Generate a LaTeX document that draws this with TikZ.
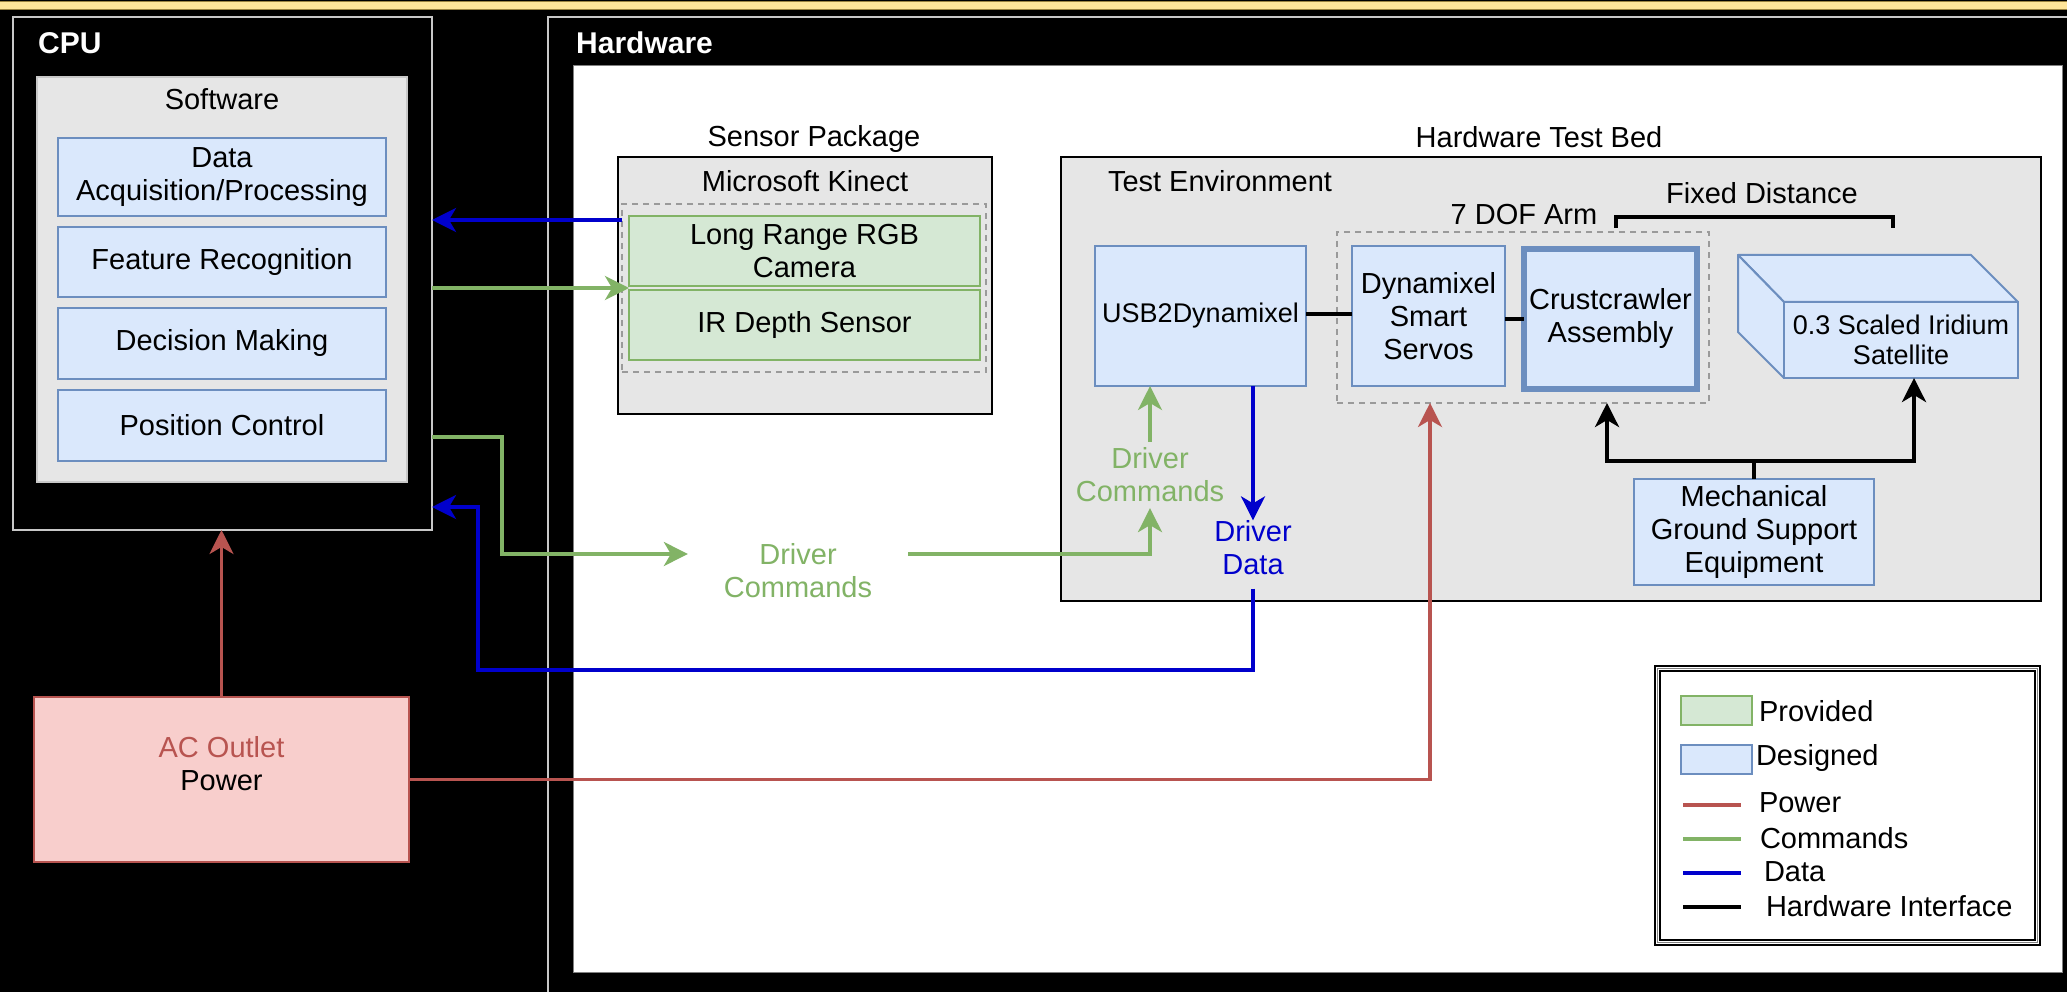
\documentclass[tikz,border=0pt]{standalone}
\usepackage{fontspec}
\setmainfont{Liberation Sans}
\usetikzlibrary{arrows.meta,calc}

\definecolor{bfill}{HTML}{DAE8FC}
\definecolor{bdraw}{HTML}{6C8EBF}
\definecolor{gfill}{HTML}{D5E8D4}
\definecolor{gdraw}{HTML}{82B366}
\definecolor{rfill}{HTML}{F8CECC}
\definecolor{rdraw}{HTML}{B85450}
\definecolor{panelgray}{HTML}{E6E6E6}
\definecolor{swborder}{HTML}{C8C8C8}
\definecolor{frameline}{HTML}{C8C8C8}
\definecolor{dashgray}{HTML}{9A9A9A}
\definecolor{dataline}{HTML}{0000CC}
\definecolor{bandyellow}{HTML}{FFE599}
\definecolor{bandedge}{HTML}{9C8440}

\begin{document}
\begin{tikzpicture}[x=1pt,y=-1pt,
  base/.style={font=\fontsize{29}{33}\selectfont, align=center, inner sep=0pt, outer sep=0pt},
  small/.style={font=\fontsize{27}{30}\selectfont},
  bluebox/.style={base, draw=bdraw, fill=bfill, line width=2pt},
  greenbox/.style={base, draw=gdraw, fill=gfill, line width=2pt},
  graybox/.style={base, draw=black, fill=panelgray, line width=2pt},
  dashbox/.style={draw=dashgray, line width=1.5pt, dash pattern=on 6pt off 5pt, inner sep=0pt, outer sep=0pt},
  panel/.style={draw=frameline, fill=black, line width=2pt, inner sep=0pt, outer sep=0pt},
  paneltitle/.style={font=\fontsize{30}{33}\selectfont\bfseries, text=white, inner sep=0pt},
  cmd/.style={draw=gdraw, line width=3.5pt},
  data/.style={draw=dataline, line width=3.5pt},
  pwr/.style={draw=rdraw, line width=3.5pt},
  hwlink/.style={draw=black, line width=4.5pt},
  >={Stealth[length=24pt,width=24pt,inset=7pt]}
]
\useasboundingbox (0,0) rectangle (2067,992);
\fill[black] (0,0) rectangle (2067,992);

% top band
\fill[bandyellow] (0,1.5) rectangle (2067,9.5);
\draw[bandedge, line width=1pt] (0,1.5) -- (2067,1.5) (0,9.5) -- (2067,9.5);

% ---------------- CPU ----------------
\node[panel, minimum width=419pt, minimum height=513pt] (cpu) at (222.5,273.5) {};
\node[paneltitle, anchor=west] (cputitle) at (38,43) {CPU};
\node[fill=panelgray, draw=swborder, line width=1.5pt, minimum width=370pt, minimum height=405pt, inner sep=0pt] (sw) at (222,279.5) {};
\node[base] (swtitle) at (222,99) {Software};
\node[bluebox, minimum width=328pt, minimum height=78pt] (dap) at (222,177) {Data\\Acquisition/Processing};
\node[bluebox, minimum width=328pt, minimum height=70pt] (feat) at (222,262) {Feature Recognition};
\node[bluebox, minimum width=328pt, minimum height=71pt] (dec) at (222,343.5) {Decision Making};
\node[bluebox, minimum width=328pt, minimum height=71pt] (pos) at (222,425.5) {Position Control};

% AC outlet
\node[base, draw=rdraw, fill=rfill, line width=2pt, minimum width=375pt, minimum height=165pt] (ac) at (221.5,779.5) {};
\node[base] (aclabel) at (221.5,763.5) {\textcolor{rdraw}{AC Outlet}\\Power};

% ---------------- Hardware ----------------
\node[panel, anchor=north west, minimum width=1560pt, minimum height=1000pt] (hw) at (548,17) {};
\node[paneltitle, anchor=west] (hwtitle) at (576,43) {Hardware};
\node[draw=gray, fill=white, line width=1pt, anchor=north west, minimum width=1489pt, minimum height=907pt, inner sep=0pt] (hwarea) at (573,65) {};

% Sensor package
\node[graybox, minimum width=374pt, minimum height=257pt] (kinect) at (805,285.5) {};
\node[base] (sptitle) at (814,139) {Sensor Package};
\node[base] (kinecttitle) at (805,181) {Microsoft Kinect};
\node[dashbox, minimum width=364pt, minimum height=168pt] (kdash) at (804,288) {};
\node[greenbox, minimum width=351pt, minimum height=70pt] (rgb) at (804.5,251) {Long Range RGB\\Camera};
\node[greenbox, minimum width=351pt, minimum height=70pt] (ir) at (804.5,325) {IR Depth Sensor};

% Hardware test bed
\node[graybox, minimum width=980pt, minimum height=444pt] (bed) at (1551,379) {};
\node[base] (bedtitle) at (1539,137) {Hardware Test Bed};
\node[base, anchor=west] (envtitle) at (1108,181) {Test Environment};
\node[dashbox, minimum width=372pt, minimum height=171pt] (arm) at (1523,317.5) {};
\node[base] (armtitle) at (1524,215) {7 DOF Arm};
\node[base] (fixtitle) at (1762,193) {Fixed Distance};
\draw[hwlink] (1616,228) -- (1616,217) -- (1893,217) -- (1893,228);

\node[bluebox, small, minimum width=211pt, minimum height=140pt] (usb) at (1200.5,316) {USB2Dynamixel};
\node[bluebox, minimum width=153pt, minimum height=140pt] (dyn) at (1428.5,316) {Dynamixel\\Smart\\Servos};
\node[bluebox, line width=6pt, minimum width=173pt, minimum height=140pt] (crust) at (1610.5,319) {Crustcrawler\\Assembly};

% satellite drawn as a cube
\filldraw[fill=bfill, draw=bdraw, line width=2pt, line join=round]
  (1738,255) -- (1971,255) -- (2018,302) -- (1784,302) -- cycle;
\filldraw[fill=bfill, draw=bdraw, line width=2pt, line join=round]
  (1738,255) -- (1784,302) -- (1784,378) -- (1738,332) -- cycle;
\node[bluebox, small, minimum width=234pt, minimum height=76pt] (sat) at (1901,340) {0.3 Scaled Iridium\\Satellite};

\node[bluebox, minimum width=240pt, minimum height=106pt] (mgse) at (1754,532) {Mechanical\\Ground Support\\Equipment};

% hardware interfaces
\draw[hwlink] ([yshift=2pt]usb.east) -- ([yshift=2pt]dyn.west);
\draw[hwlink] (dyn.east |- crust.center) -- (crust.west);
\coordinate (hl) at (1607,461);
\coordinate (hr) at (1914,461);
\draw[hwlink] (mgse.north) -- (mgse.north |- hl);
\draw[hwlink,<->] (hl |- arm.south) -- (hl) -- (hr) -- (hr |- sat.south);

% signal labels
\node[base, text=gdraw, inner xsep=36pt] (dc1) at (798,571) {Driver\\Commands};
\node[base, text=gdraw, inner sep=6pt] (dc2) at (1150,475) {Driver\\Commands};
\node[base, text=dataline] (dd) at (1253,547.5) {Driver\\Data};

% sensor links
\draw[data,->] ([yshift=-16pt]kdash.north west) coordinate (k1) -- (cpu.east |- k1);
\coordinate (gmid) at ($(rgb.south west)!0.5!(ir.north west)$);
\draw[cmd,->] (cpu.east |- gmid) -- (gmid);

% command path
\draw[cmd,->] (cpu.east |- 0,437) -| (502,554) -- (dc1.west |- 0,554);
\draw[cmd,->] (dc1.east |- 0,554) -| (dc2.south);
\draw[cmd,->] (dc2.north) -- (dc2.north |- usb.south);

% data path
\draw[data,->] (dd.north |- usb.south) -- (dd.north);
\draw[data,->] ([yshift=-14pt]dd.south) |- (478,670) |- (cpu.east |- 0,507);

% power
\draw[pwr,->] (ac.north) -- (ac.north |- cpu.south);
\draw[pwr,->] (ac.east) -| (1430,0 |- arm.south);

% ---------------- Legend ----------------
\node[draw=black, fill=white, line width=2pt, minimum width=385pt, minimum height=279pt, inner sep=0pt, outer sep=0pt] (legend) at (1847.5,805.5) {};
\draw[gray, line width=1.5pt] ([shift={(2.5pt,-2.5pt)}]legend.north west) rectangle ([shift={(-2.5pt,2.5pt)}]legend.south east);
\draw[black, line width=1.5pt] ([shift={(5pt,-5pt)}]legend.north west) rectangle ([shift={(-5pt,5pt)}]legend.south east);
\node[greenbox, minimum width=71pt, minimum height=29pt] (lgprov) at (1716.5,710.5) {};
\node[base, anchor=west] (lgprovtext) at (1759,711) {Provided};
\node[bluebox, minimum width=71pt, minimum height=29pt] (lgdes) at (1716.5,759.5) {};
\node[base, anchor=west] (lgdestext) at (1756,758) {Designed};
\draw[pwr, line width=4.5pt] (1683,805) -- (1741,805);
\node[base, anchor=west] (lgpwr) at (1759,803) {Power};
\draw[cmd, line width=4.5pt] (1683,839) -- (1741,839);
\node[base, anchor=west] (lgcmd) at (1760,838) {Commands};
\draw[data, line width=4.5pt] (1683,873) -- (1741,873);
\node[base, anchor=west] (lgdata) at (1764,872) {Data};
\draw[hwlink] (1683,907) -- (1741,907);
\node[base, anchor=west] (lghw) at (1766,906) {Hardware Interface};
\end{tikzpicture}
\end{document}
